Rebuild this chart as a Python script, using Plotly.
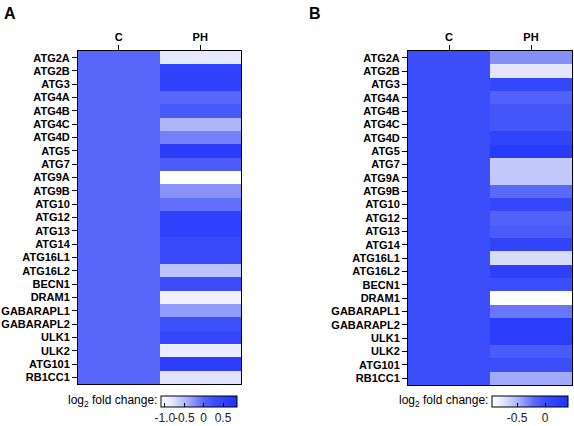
import plotly.graph_objects as go

genes = ["ATG2A", "ATG2B", "ATG3", "ATG4A", "ATG4B", "ATG4C", "ATG4D", "ATG5", "ATG7",
         "ATG9A", "ATG9B", "ATG10", "ATG12", "ATG13", "ATG14", "ATG16L1", "ATG16L2",
         "BECN1", "DRAM1", "GABARAPL1", "GABARAPL2", "ULK1", "ULK2", "ATG101", "RB1CC1"]
groups = ["C", "PH"]

# log2 fold change, PH vs C (C = 0)
ph_a = [-0.85, 0.5, 0.55, 0.0, 0.15, -0.45, -0.15, 0.65, 0.1, -1.1, -0.25, -0.05, 0.55,
        0.55, 0.35, 0.35, -0.55, 0.3, -0.95, -0.3, 0.25, 0.45, -0.9, 0.6, -0.8]
ph_b = [-0.35, -0.75, 0.1, -0.15, -0.05, -0.05, 0.15, 0.3, -0.6, -0.6, -0.2, 0.1, -0.15,
        -0.1, 0.15, -0.7, 0.2, 0.0, -0.95, -0.25, 0.25, 0.25, -0.1, 0.0, -0.45]
c_vals = [0.0] * len(genes)

range_a = [-1.1, 0.86]
range_b = [-0.95, 0.41]
ticks_a = [-1.0, -0.5, 0, 0.5]
ticktext_a = ["-1.0", "-0.5", "0", "0.5"]
ticks_b = [-0.5, 0]
ticktext_b = ["-0.5", "0"]

cscale = [[0.0, "rgb(255,255,255)"], [0.15, "rgb(226,229,252)"], [0.35, "rgb(168,176,250)"],
          [0.56, "rgb(88,102,250)"], [0.7, "rgb(60,78,250)"], [1.0, "rgb(32,50,250)"]]

W, H = 574, 426
FONT = "Arial, Liberation Sans, sans-serif"

def px(x):
    return x / W

def py(y):
    return 1 - y / H

fig = go.Figure()

def add_panel(ph, rng, tv, tt, xaxis, yaxis, cb_left):
    z = [[c, p] for c, p in zip(c_vals, ph)]
    fig.add_trace(go.Heatmap(
        z=z, x=groups, y=genes, xaxis=xaxis, yaxis=yaxis,
        colorscale=cscale, zmin=rng[0], zmax=rng[1], xgap=0, ygap=0,
        colorbar=dict(orientation="h", x=px(cb_left), xanchor="left", y=py(396), yanchor="top",
                      lenmode="pixels", len=76, thickness=11, thicknessmode="pixels",
                      xpad=0, ypad=0, outlinecolor="black", outlinewidth=1,
                      tickvals=tv, ticktext=tt, ticks="inside", ticklen=4, tickcolor="black",
                      tickangle=0,
                      tickfont=dict(family=FONT, size=12, color="#222")),
    ))

add_panel(ph_a, range_a, ticks_a, ticktext_a, "x", "y", 161)
add_panel(ph_b, range_b, ticks_b, ticktext_b, "x2", "y2", 492)

ax_common = dict(side="top", showline=True, mirror=True, linecolor="black", linewidth=1,
                 ticks="outside", ticklen=5, tickcolor="black",
                 tickfont=dict(family=FONT, size=11, color="black", weight="bold"),
                 showgrid=False, zeroline=False, automargin=False)
ay_common = dict(autorange="reversed", showline=True, mirror=True, linecolor="black", linewidth=1,
                 ticks="outside", ticklen=5, tickcolor="black", tickmode="array",
                 tickvals=genes, ticktext=genes,
                 tickfont=dict(family=FONT, size=11, color="black", weight="bold"),
                 showgrid=False, zeroline=False, automargin=False)

fig.update_layout(
    width=W, height=H, margin=dict(l=0, r=0, t=0, b=0, autoexpand=False),
    paper_bgcolor="white", plot_bgcolor="white",
    xaxis=dict(domain=[px(78), px(241)], anchor="y", **ax_common),
    yaxis=dict(domain=[py(384), py(51)], anchor="x", **ay_common),
    xaxis2=dict(domain=[px(408), px(572)], anchor="y2", **ax_common),
    yaxis2=dict(domain=[py(385), py(51)], anchor="x2", **ay_common),
    showlegend=False,
)

annots = [
    dict(text="<b>A</b>", x=px(2), y=py(3), xanchor="left", yanchor="top", font=dict(size=16)),
    dict(text="<b>B</b>", x=px(307), y=py(3), xanchor="left", yanchor="top", font=dict(size=16)),
    dict(text="log<sub>2</sub> fold change:", x=px(159), y=py(401), xanchor="right", yanchor="middle",
         font=dict(size=12)),
    dict(text="log<sub>2</sub> fold change:", x=px(490), y=py(401), xanchor="right", yanchor="middle",
         font=dict(size=12)),
]
for a in annots:
    a.update(xref="paper", yref="paper", showarrow=False)
    a["font"].update(family=FONT, color="black")
    fig.add_annotation(**a)

# remove the default 8px page margin so the figure sits at the window's top-left corner
fig.write_html("out.html", config={"displayModeBar": False},
               post_script="document.body.style.margin='0px';")
